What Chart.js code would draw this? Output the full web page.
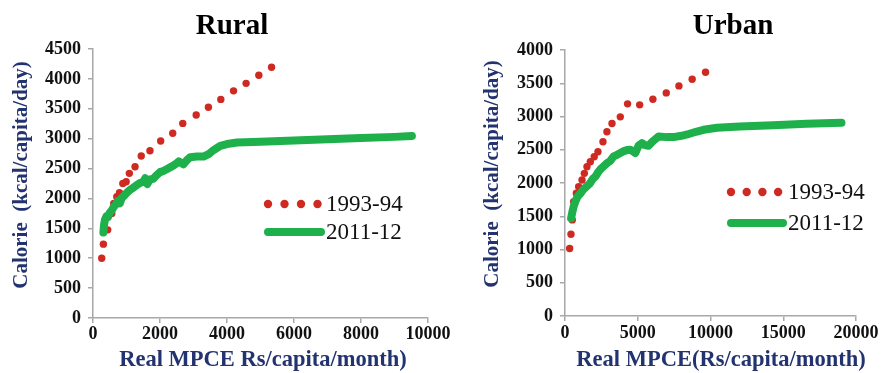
<!DOCTYPE html>
<html><head><meta charset="utf-8">
<script src="https://cdn.jsdelivr.net/npm/chart.js@4/dist/chart.umd.min.js"></script>
<style>
html,body{margin:0;padding:0;background:#fff;width:881px;height:373px;overflow:hidden}
#c1{position:absolute;left:0;top:0;width:460px;height:373px}
#c2{position:absolute;left:440px;top:0;width:441px;height:373px}
</style></head><body>
<canvas id="c1" width="460" height="373"></canvas>
<canvas id="c2" width="441" height="373"></canvas>
<script>
// ---------- data ----------
const seriesLabels = ['1993-94', '2011-12'];

const ruralX1993 = [260, 310, 440, 560, 620, 710, 790, 890, 990, 1085, 1255, 1440, 1700, 2020, 2380, 2680, 3080, 3445, 3815, 4195, 4570, 4950, 5330];
const ruralY1993 = [1000, 1235, 1475, 1750, 1915, 2030, 2095, 2250, 2280, 2420, 2530, 2710, 2798, 2960, 3090, 3255, 3395, 3525, 3657, 3800, 3925, 4060, 4195];

const ruralX2011 = [310, 330, 360, 400, 450, 500, 560, 620, 680, 740, 800, 860, 920, 1000, 1100, 1200, 1300, 1400, 1500, 1560, 1620, 1700, 1800, 1900, 2000, 2100, 2200, 2300, 2400, 2500, 2560, 2700, 2800, 2900, 3100, 3300, 3450, 3600, 3800, 4000, 4300, 5000, 6000, 7000, 8000, 9000, 9520];
const ruralY2011 = [1430, 1560, 1650, 1700, 1690, 1760, 1800, 1860, 1900, 1960, 1920, 2010, 2040, 2090, 2140, 2180, 2220, 2260, 2280, 2340, 2240, 2320, 2330, 2390, 2440, 2460, 2490, 2520, 2550, 2590, 2620, 2570, 2640, 2690, 2700, 2700, 2740, 2810, 2880, 2910, 2935, 2950, 2970, 2990, 3010, 3030, 3045];

const urbanX1993 = [320, 410, 500, 595, 780, 940, 1170, 1330, 1510, 1740, 2010, 2265, 2610, 2880, 3230, 3800, 4300, 5130, 6040, 6960, 7830, 8740, 9660];
const urbanY1993 = [1015, 1230, 1445, 1720, 1845, 1945, 2045, 2145, 2245, 2320, 2395, 2470, 2620, 2770, 2895, 2995, 3190, 3175, 3260, 3355, 3460, 3560, 3665];

const urbanX2011 = [420, 500, 600, 710, 850, 1050, 1250, 1500, 1700, 1900, 2100, 2300, 2450, 2650, 2900, 3100, 3340, 3550, 3800, 4050, 4260, 4500, 4830, 5050, 5290, 5500, 5740, 6000, 6430, 7000, 7460, 8000, 8400, 9000, 9520, 10450, 12000, 14300, 16600, 19000];
const urbanY2011 = [1470, 1560, 1650, 1720, 1790, 1840, 1900, 1950, 1990, 2060, 2100, 2170, 2210, 2250, 2300, 2330, 2400, 2420, 2450, 2480, 2495, 2500, 2450, 2560, 2600, 2570, 2560, 2620, 2700, 2690, 2690, 2710, 2730, 2770, 2800, 2830, 2850, 2870, 2890, 2905];

const ruralXTicks = [0, 2000, 4000, 6000, 8000, 10000];
const ruralYTicks = [0, 500, 1000, 1500, 2000, 2500, 3000, 3500, 4000, 4500];
const urbanXTicks = [0, 5000, 10000, 15000, 20000];
const urbanYTicks = [0, 500, 1000, 1500, 2000, 2500, 3000, 3500, 4000];

// ---------- styling ----------
const FAM = "'Liberation Serif','Times New Roman',serif";
const RED = '#cf2a22';
const GREEN = '#1db04b';
const NAVY = '#22336f';
const AXIS = '#a8a8a8';

function pts(xs, ys) { return xs.map((x, i) => ({x: x, y: ys[i]})); }

const overlay = {
  id: 'overlay',
  afterDatasetsDraw(chart, args, opts) {
    const ctx = chart.ctx;
    ctx.save();
    for (const t of opts.texts) {
      ctx.save();
      ctx.font = t.font; ctx.fillStyle = t.color;
      ctx.textAlign = 'center'; ctx.textBaseline = 'middle';
      ctx.translate(t.x, t.y);
      if (t.rot) ctx.rotate(t.rot);
      ctx.fillText(t.text, 0, 0);
      ctx.restore();
    }
    const L = opts.legend;
    chart.data.datasets.forEach((ds, i) => {
      const y = L.y[i];
      if (ds.showLine === false) {
        ctx.fillStyle = ds.backgroundColor;
        for (let k = 0; k < 4; k++) {
          ctx.beginPath();
          ctx.arc(L.x0 + k * L.gap, y, 4.2, 0, Math.PI * 2);
          ctx.fill();
        }
      } else {
        ctx.strokeStyle = ds.borderColor; ctx.lineWidth = 8; ctx.lineCap = 'round';
        ctx.beginPath(); ctx.moveTo(L.x0, y); ctx.lineTo(L.x1, y); ctx.stroke();
      }
      ctx.fillStyle = '#111'; ctx.font = '23px ' + FAM;
      ctx.textAlign = 'left'; ctx.textBaseline = 'middle';
      ctx.fillText(ds.label, L.tx, y + 1);
    });
    ctx.restore();
  }
};

function makeChart(id, d, cfg) {
  const tickFont = {family: FAM, size: 18, weight: 'bold'};
  return new Chart(document.getElementById(id), {
    type: 'scatter',
    data: {
      datasets: [
        {label: seriesLabels[0], data: pts(d.x1, d.y1), showLine: false, pointRadius: 3.7, pointHoverRadius: 3.7,
          backgroundColor: RED, borderColor: RED, borderWidth: 0, order: 1},
        {label: seriesLabels[1], data: pts(d.x2, d.y2), showLine: true, pointRadius: 0, borderWidth: 8,
          borderColor: GREEN, backgroundColor: GREEN, borderCapStyle: 'round', borderJoinStyle: 'round', tension: 0, order: 0}
      ]
    },
    options: {
      responsive: false, animation: false, devicePixelRatio: 1,
      layout: {padding: {left: 0, top: cfg.top, right: cfg.right, bottom: 0}},
      plugins: {legend: {display: false}, tooltip: {enabled: false}, title: {display: false},
        overlay: {texts: cfg.texts, legend: cfg.legend}},
      scales: {
        x: {type: 'linear', min: d.xt[0], max: d.xt[d.xt.length - 1],
          afterBuildTicks: s => { s.ticks = d.xt.map(v => ({value: v})); },
          afterFit: s => { s.height = cfg.xh; },
          grid: {drawOnChartArea: false, color: AXIS, tickLength: 5, lineWidth: 1.5},
          border: {color: AXIS, width: 1.5},
          ticks: {font: tickFont, color: '#111', padding: cfg.xpad, maxRotation: 0, autoSkip: false,
            callback: v => String(v)}},
        y: {type: 'linear', min: d.yt[0], max: d.yt[d.yt.length - 1],
          afterBuildTicks: s => { s.ticks = d.yt.map(v => ({value: v})); },
          afterFit: s => { s.width = cfg.yw; },
          grid: {drawOnChartArea: false, color: AXIS, tickLength: 5, lineWidth: 1.5},
          border: {color: AXIS, width: 1.5},
          ticks: {font: tickFont, color: '#111', padding: 7, autoSkip: false,
            callback: v => String(v)}}
      }
    },
    plugins: [overlay]
  });
}

makeChart('c1', {x1: ruralX1993, y1: ruralY1993, x2: ruralX2011, y2: ruralY2011, xt: ruralXTicks, yt: ruralYTicks}, {
  top: 49, right: 32, xh: 55, yw: 93, xpad: 1,
  texts: [
    {text: 'Rural', x: 232, y: 27, font: 'bold 29px ' + FAM, color: '#000'},
    {text: 'Calorie  (kcal/capita/day)', x: 22, y: 175, rot: -Math.PI / 2, font: 'bold 21px ' + FAM, color: NAVY},
    {text: 'Real MPCE Rs/capita/month)', x: 263, y: 360, font: 'bold 22.5px ' + FAM, color: NAVY}
  ],
  legend: {x0: 268, gap: 16.5, x1: 321, tx: 326, y: [204, 232]}
});

makeChart('c2', {x1: urbanX1993, y1: urbanY1993, x2: urbanX2011, y2: urbanY2011, xt: urbanXTicks, yt: urbanYTicks}, {
  top: 50, right: 25, xh: 57, yw: 125, xpad: 2,
  texts: [
    {text: 'Urban', x: 293, y: 27, font: 'bold 29px ' + FAM, color: '#000'},
    {text: 'Calorie  (kcal/capita/day)', x: 53, y: 174, rot: -Math.PI / 2, font: 'bold 21px ' + FAM, color: NAVY},
    {text: 'Real MPCE(Rs/capita/month)', x: 281, y: 360, font: 'bold 22.5px ' + FAM, color: NAVY}
  ],
  legend: {x0: 291, gap: 15.7, x1: 343, tx: 348, y: [192, 223]}
});
</script>
</body></html>
